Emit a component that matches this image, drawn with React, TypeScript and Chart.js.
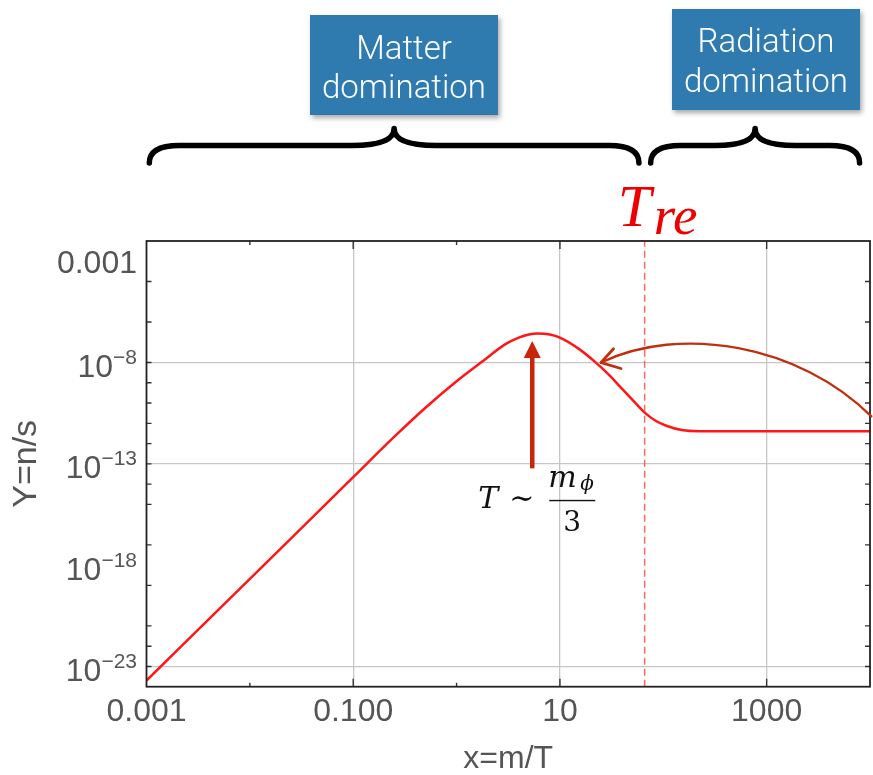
import React, { useEffect, useRef } from 'react';
import { Chart, registerables } from 'chart.js';

Chart.register(...registerables);

// ---------------- data ----------------
const X_VALUES = [0.001, 0.01, 0.1, 0.25, 0.5, 1, 1.72, 3, 4, 5, 6.1, 8, 10, 15, 22, 30, 40, 55, 67, 85, 107, 155, 220, 1000, 10000];
const Y_VALUES = [2.0e-24, 2.1e-19, 2.2e-14, 2.2e-12, 5.9e-11, 1.2e-9, 1.0e-8, 8.3e-8, 1.7e-7, 2.45e-7, 2.75e-7, 2.4e-7, 1.7e-7, 5.0e-8, 1.05e-8, 2.4e-9, 5.0e-10, 8.9e-11, 3.2e-11, 1.3e-11, 7.6e-12, 4.5e-12, 4.1e-12, 4.1e-12, 4.1e-12];

const T_RE = 66;
const X_MIN = 0.001;
const X_MAX = 10000;
const Y_MIN = 1e-24;
const Y_MAX = 1e-2;

const X_TICK_VALUES = [0.001, 0.1, 10, 1000];
const X_TICK_LABELS = ['0.001', '0.100', '10', '1000'];
const X_GRID = [0.1, 10, 1000];
const X_MINOR_TICKS = [0.01, 1];

const Y_GRID = [1e-8, 1e-13, 1e-23];
const Y_LABEL_VALUES = [1e-3, 1e-8, 1e-13, 1e-18, 1e-23];
const Y_LABEL_BASE = ['0.001', '10', '10', '10', '10'];
const Y_LABEL_EXP = ['', '\u22128', '\u221213', '\u221218', '\u221223'];
const Y_MINOR_TICKS = [1e-4, 1e-6, 1e-9, 1e-10, 1e-11, 1e-12, 1e-14, 1e-15, 1e-17, 1e-19, 1e-21, 1e-22];

// annotation anchors (data space)
const PEAK_ARROW_X = 5.4;
const PEAK_ARROW_FROM = 6e-14;
const PEAK_ARROW_TO = 1.15e-7;
const HAND_ARROW = [[25, 1e-8], [143, 7.6e-7], [2070, 8e-8], [10300, 2.2e-11]];
const HAND_ARROW_ARMS = [[33, 4.8e-8], [39, 5.1e-9]];

const REGION_LABELS = [['Matter', 'domination'], ['Radiation', 'domination']];

// ---------------- styles ----------------
const SANS = '"Liberation Sans", Arial, Helvetica, sans-serif';
const SERIF = '"Liberation Serif", "DejaVu Serif", serif';
const MATH = '"DejaVu Serif", "Liberation Serif", serif';
const TICK_COLOR = '#555555';
const GRID_COLOR = '#c6c6c6';

function drawBrace(ctx: CanvasRenderingContext2D, x0: number, x1: number, yEnd: number, yMid: number, yTip: number, r: number, rt: number) {
  const xc = (x0 + x1) / 2;
  ctx.beginPath();
  ctx.moveTo(x0, yEnd);
  ctx.quadraticCurveTo(x0, yMid, x0 + r, yMid);
  ctx.lineTo(xc - rt, yMid);
  ctx.quadraticCurveTo(xc, yMid, xc, yTip);
  ctx.quadraticCurveTo(xc, yMid, xc + rt, yMid);
  ctx.lineTo(x1 - r, yMid);
  ctx.quadraticCurveTo(x1, yMid, x1, yEnd);
  ctx.stroke();
}

function drawBox(ctx: CanvasRenderingContext2D, left: number, top: number, w: number, h: number, lines: string[], baselines: number[]) {
  ctx.save();
  ctx.shadowColor = 'rgba(0,0,0,0.35)';
  ctx.shadowBlur = 5;
  ctx.shadowOffsetX = 2;
  ctx.shadowOffsetY = 3;
  ctx.fillStyle = '#2f7bb0';
  ctx.fillRect(left, top, w, h);
  ctx.restore();
  ctx.save();
  ctx.fillStyle = '#ffffff';
  ctx.font = `300 33px Roboto, ${SANS}`;
  ctx.textAlign = 'center';
  ctx.textBaseline = 'alphabetic';
  lines.forEach((t, i) => ctx.fillText(t, left + w / 2, baselines[i]));
  ctx.restore();
}

const overlayPlugin = {
  id: 'overlay',
  afterDatasetsDraw(chart: any) {
    const { ctx, chartArea: a, scales } = chart;
    const xs = scales.x;
    const ys = scales.y;
    ctx.save();
    // tick marks
    ctx.strokeStyle = '#333';
    ctx.lineWidth = 1.4;
    ctx.beginPath();
    [...X_GRID.map((v) => [v, 8]), ...X_MINOR_TICKS.map((v) => [v, 4])].forEach(([v, len]) => {
      const px = xs.getPixelForValue(v);
      ctx.moveTo(px, a.bottom);
      ctx.lineTo(px, a.bottom - len);
      ctx.moveTo(px, a.top);
      ctx.lineTo(px, a.top + len);
    });
    [...Y_GRID, ...Y_MINOR_TICKS].forEach((v) => {
      const py = ys.getPixelForValue(v);
      ctx.moveTo(a.left, py);
      ctx.lineTo(a.left + 5, py);
      ctx.moveTo(a.right, py);
      ctx.lineTo(a.right - 5, py);
    });
    ctx.stroke();
    // frame
    ctx.strokeStyle = '#222';
    ctx.lineWidth = 1.8;
    ctx.strokeRect(a.left, a.top, a.right - a.left, a.bottom - a.top);
    ctx.restore();
  },
  afterDraw(chart: any) {
    const { ctx, chartArea: a, scales } = chart;
    const xs = scales.x;
    const ys = scales.y;
    const P = (p: number[]) => [xs.getPixelForValue(p[0]), ys.getPixelForValue(p[1])];
    ctx.save();

    // y tick labels with superscripts
    ctx.fillStyle = TICK_COLOR;
    ctx.textAlign = 'left';
    ctx.textBaseline = 'alphabetic';
    Y_LABEL_VALUES.forEach((v, i) => {
      const py = ys.getPixelForValue(v);
      const base = Y_LABEL_BASE[i];
      const exp = Y_LABEL_EXP[i];
      ctx.font = `32px ${SANS}`;
      const wb = ctx.measureText(base).width;
      ctx.font = `21px ${SANS}`;
      const we = exp ? ctx.measureText(exp).width : 0;
      const right = a.left - 9.5;
      const sx = right - wb - we;
      ctx.font = `32px ${SANS}`;
      ctx.fillText(base, sx, py + (exp ? 14.5 : 11.5));
      if (exp) {
        ctx.font = `21px ${SANS}`;
        ctx.fillText(exp, sx + wb, py + 1.5);
      }
    });

    // vertical arrow toward the peak
    const ax = xs.getPixelForValue(PEAK_ARROW_X);
    const ay0 = ys.getPixelForValue(PEAK_ARROW_FROM);
    const ay1 = ys.getPixelForValue(PEAK_ARROW_TO);
    ctx.strokeStyle = '#c8250a';
    ctx.fillStyle = '#c8250a';
    ctx.lineWidth = 4.5;
    ctx.beginPath();
    ctx.moveTo(ax, ay0);
    ctx.lineTo(ax, ay1 + 14);
    ctx.stroke();
    ctx.beginPath();
    ctx.moveTo(ax, ay1);
    ctx.lineTo(ax - 8.5, ay1 + 17);
    ctx.lineTo(ax + 8.5, ay1 + 17);
    ctx.closePath();
    ctx.fill();

    // math label  T ~ m_phi / 3
    ctx.fillStyle = '#111';
    const lx = ax - 54;
    const ly = ay0 + 40;
    ctx.font = `italic 30px ${MATH}`;
    ctx.fillText('T', lx, ly);
    ctx.font = `30px ${MATH}`;
    ctx.fillText('\u223C', lx + 31, ly);
    ctx.font = `italic 30px ${MATH}`;
    ctx.fillText('m', lx + 70, ly - 21.5);
    ctx.font = `italic 20px ${MATH}`;
    ctx.fillText('\u03D5', lx + 102, ly - 18);
    ctx.fillRect(lx + 71, ly - 8.5, 46, 1.4);
    ctx.font = `28px ${MATH}`;
    ctx.textAlign = 'center';
    ctx.fillText('3', lx + 94, ly + 22.5);
    ctx.textAlign = 'left';

    // hand-drawn curved arrow
    const [p0, p1, p2, p3] = HAND_ARROW.map(P);
    ctx.strokeStyle = '#c0300f';
    ctx.lineWidth = 2.3;
    ctx.lineCap = 'round';
    ctx.beginPath();
    ctx.moveTo(p0[0], p0[1]);
    ctx.bezierCurveTo(p1[0], p1[1], p2[0], p2[1], p3[0], p3[1]);
    ctx.stroke();
    ctx.lineWidth = 2.8;
    HAND_ARROW_ARMS.map(P).forEach((q) => {
      ctx.beginPath();
      ctx.moveTo(p0[0], p0[1]);
      ctx.lineTo(q[0], q[1]);
      ctx.stroke();
    });

    // braces
    const tre = xs.getPixelForValue(T_RE);
    ctx.strokeStyle = '#000';
    ctx.lineWidth = 5.5;
    ctx.lineCap = 'round';
    ctx.lineJoin = 'round';
    drawBrace(ctx, a.left + 2.8, tre - 5.7, 163, 145.5, 128.5, 30, 42);
    drawBrace(ctx, tre + 6, a.right - 10.4, 163, 145.5, 128.5, 30, 40);

    // region boxes
    drawBox(ctx, 310, 15, 188, 100, REGION_LABELS[0], [59, 98]);
    drawBox(ctx, 672, 9, 188, 101, REGION_LABELS[1], [52, 92]);

    // T_re label
    ctx.fillStyle = '#ee0000';
    ctx.font = `italic 60px ${SERIF}`;
    ctx.fillText('T', tre - 27, 226);
    ctx.font = `italic 55px ${SERIF}`;
    ctx.fillText('re', tre + 9, 234);

    ctx.restore();
  },
};

export default function App() {
  const canvasRef = useRef<HTMLCanvasElement | null>(null);

  useEffect(() => {
    const canvas = canvasRef.current;
    if (!canvas) return;
    const curve = X_VALUES.map((x, i) => ({ x, y: Y_VALUES[i] }));
    const chart = new Chart(canvas, {
      type: 'line',
      data: {
        datasets: [
          {
            data: [{ x: T_RE, y: Y_MIN }, { x: T_RE, y: Y_MAX }],
            borderColor: 'rgba(255,85,85,0.9)',
            borderWidth: 1.5,
            borderDash: [7, 4],
            pointRadius: 0,
            tension: 0,
          },
          {
            data: curve,
            borderColor: 'rgb(255,22,22)',
            borderWidth: 2.5,
            pointRadius: 0,
            cubicInterpolationMode: 'monotone',
          },
        ],
      },
      options: {
        responsive: false,
        animation: false,
        devicePixelRatio: 1,
        events: [],
        layout: { padding: { left: 9.5, right: 3, top: 241, bottom: 0 } },
        plugins: { legend: { display: false }, tooltip: { enabled: false } },
        scales: {
          x: {
            type: 'logarithmic',
            min: X_MIN,
            max: X_MAX,
            afterBuildTicks: (s: any) => {
              s.ticks = X_TICK_VALUES.map((v) => ({ value: v }));
            },
            afterFit: (s: any) => {
              s.height = 88.3;
            },
            ticks: {
              autoSkip: false,
              maxRotation: 0,
              padding: 6,
              color: TICK_COLOR,
              font: { family: SANS, size: 32 },
              callback: (v: any) => {
                const i = X_TICK_VALUES.indexOf(Number(v));
                return i >= 0 ? X_TICK_LABELS[i] : '';
              },
            },
            grid: {
              drawTicks: false,
              lineWidth: 1.3,
              color: (c: any) => (c.tick && X_GRID.includes(c.tick.value) ? GRID_COLOR : 'rgba(0,0,0,0)'),
            },
            border: { display: false },
            title: {
              display: true,
              text: 'x=m/T',
              color: TICK_COLOR,
              font: { family: SANS, size: 32, lineHeight: 1 },
              padding: 0,
            },
          },
          y: {
            type: 'logarithmic',
            min: Y_MIN,
            max: Y_MAX,
            afterBuildTicks: (s: any) => {
              s.ticks = Y_GRID.map((v) => ({ value: v }));
            },
            afterFit: (s: any) => {
              s.width = 137;
            },
            ticks: { display: false },
            grid: {
              drawTicks: false,
              lineWidth: 1.3,
              color: GRID_COLOR,
            },
            border: { display: false },
            title: {
              display: true,
              text: 'Y=n/s',
              color: TICK_COLOR,
              font: { family: SANS, size: 34, lineHeight: 1 },
              padding: 0,
            },
          },
        },
      },
      plugins: [overlayPlugin],
    } as any);
    return () => chart.destroy();
  }, []);

  return (
    <canvas
      ref={canvasRef}
      width={873}
      height={775}
      style={{ position: 'absolute', left: 0, top: 0, display: 'block', background: '#ffffff' }}
    />
  );
}
